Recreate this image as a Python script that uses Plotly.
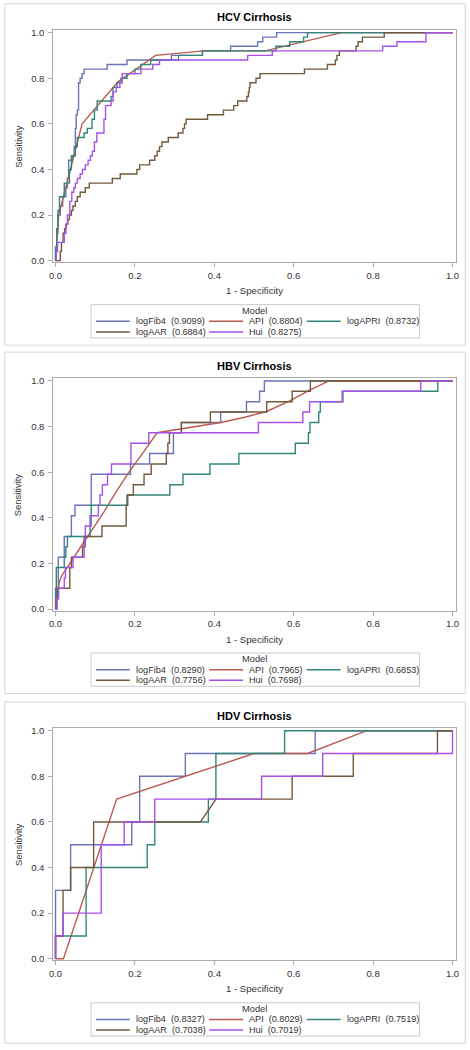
import plotly.graph_objects as go

W, H = 470, 1050

# ---------------- data ----------------
model_names = ["logFib4", "API", "logAPRI", "logAAR", "Hui"]
model_colors = ["#6A73B8", "#BB5A50", "#33857A", "#72583C", "#A850EA"]
panel_titles = ["HCV Cirrhosis", "HBV Cirrhosis", "HDV Cirrhosis"]
tick_vals = [0.0, 0.2, 0.4, 0.6, 0.8, 1.0]
tick_text = ["0.0", "0.2", "0.4", "0.6", "0.8", "1.0"]

hcv_auc = [0.9099, 0.8804, 0.8732, 0.6884, 0.8275]
hbv_auc = [0.8290, 0.7965, 0.6853, 0.7756, 0.7698]
hdv_auc = [0.8327, 0.8029, 0.7519, 0.7038, 0.7019]

# ROC vertices (1 - specificity, sensitivity)
hcv_logfib4 = [(0, 0), (0, 0.04), (0.003, 0.04), (0.003, 0.12), (0.006, 0.12), (0.006, 0.2),
               (0.012, 0.2), (0.012, 0.24), (0.018, 0.24), (0.018, 0.28), (0.026, 0.28), (0.026, 0.32),
               (0.03, 0.32), (0.03, 0.36), (0.033, 0.36), (0.033, 0.44), (0.043, 0.44), (0.043, 0.46),
               (0.047, 0.46), (0.047, 0.5), (0.05, 0.5), (0.05, 0.58), (0.052, 0.58), (0.052, 0.64),
               (0.055, 0.64), (0.055, 0.66), (0.058, 0.66), (0.058, 0.78), (0.062, 0.78), (0.062, 0.8),
               (0.067, 0.8), (0.067, 0.82), (0.072, 0.82), (0.072, 0.84), (0.13, 0.84), (0.13, 0.86),
               (0.18, 0.86), (0.18, 0.88), (0.292, 0.88), (0.292, 0.9), (0.37, 0.9), (0.37, 0.92),
               (0.441, 0.92), (0.441, 0.94), (0.509, 0.94), (0.509, 0.96), (0.522, 0.96), (0.522, 0.98),
               (0.557, 0.98), (0.557, 1.0), (1, 1.0)]
hcv_api = [(0, 0), (0.008, 0.2), (0.067, 0.6), (0.158, 0.785), (0.252, 0.9), (0.374, 0.92),
           (0.528, 0.92), (0.72, 1.0), (1, 1.0)]
hcv_logapri = [(0, 0), (0, 0.06), (0.003, 0.06), (0.003, 0.14), (0.006, 0.14), (0.006, 0.22),
               (0.01, 0.22), (0.01, 0.28), (0.022, 0.28), (0.022, 0.34), (0.035, 0.34), (0.035, 0.4),
               (0.04, 0.4), (0.04, 0.46), (0.05, 0.46), (0.05, 0.5), (0.055, 0.5), (0.055, 0.54),
               (0.072, 0.54), (0.072, 0.56), (0.08, 0.56), (0.08, 0.58), (0.092, 0.58), (0.092, 0.62),
               (0.098, 0.62), (0.098, 0.66), (0.105, 0.66), (0.105, 0.7), (0.14, 0.7), (0.14, 0.72),
               (0.145, 0.72), (0.145, 0.76), (0.155, 0.76), (0.155, 0.78), (0.165, 0.78), (0.165, 0.8),
               (0.18, 0.8), (0.18, 0.82), (0.2, 0.82), (0.2, 0.84), (0.215, 0.84), (0.215, 0.86),
               (0.24, 0.86), (0.24, 0.88), (0.31, 0.88), (0.31, 0.9), (0.37, 0.9), (0.37, 0.92),
               (0.555, 0.92), (0.555, 0.94), (0.59, 0.94), (0.59, 0.96), (0.625, 0.96), (0.625, 0.98),
               (0.635, 0.98), (0.635, 1.0), (1, 1.0)]
hcv_logaar = [(0, 0), (0.012, 0), (0.012, 0.04), (0.015, 0.04), (0.015, 0.08), (0.019, 0.08),
              (0.019, 0.12), (0.023, 0.12), (0.023, 0.14), (0.027, 0.14), (0.027, 0.16), (0.031, 0.16),
              (0.031, 0.18), (0.035, 0.18), (0.035, 0.2), (0.04, 0.2), (0.04, 0.22), (0.044, 0.22),
              (0.044, 0.24), (0.05, 0.24), (0.05, 0.26), (0.055, 0.26), (0.055, 0.28), (0.062, 0.28),
              (0.062, 0.3), (0.075, 0.3), (0.075, 0.32), (0.085, 0.32), (0.085, 0.34), (0.143, 0.34),
              (0.143, 0.36), (0.163, 0.36), (0.163, 0.38), (0.205, 0.38), (0.205, 0.4), (0.212, 0.4),
              (0.212, 0.42), (0.237, 0.42), (0.237, 0.44), (0.25, 0.44), (0.25, 0.46), (0.256, 0.46),
              (0.256, 0.48), (0.262, 0.48), (0.262, 0.5), (0.268, 0.5), (0.268, 0.52), (0.284, 0.52),
              (0.284, 0.54), (0.309, 0.54), (0.309, 0.56), (0.321, 0.56), (0.321, 0.58), (0.325, 0.58),
              (0.325, 0.6), (0.329, 0.6), (0.329, 0.62), (0.383, 0.62), (0.383, 0.64), (0.423, 0.64),
              (0.423, 0.66), (0.449, 0.66), (0.449, 0.68), (0.459, 0.68), (0.459, 0.7), (0.482, 0.7),
              (0.482, 0.72), (0.486, 0.72), (0.486, 0.74), (0.488, 0.74), (0.488, 0.76), (0.49, 0.76),
              (0.49, 0.78), (0.505, 0.78), (0.505, 0.8), (0.515, 0.8), (0.515, 0.82), (0.627, 0.82),
              (0.627, 0.84), (0.685, 0.84), (0.685, 0.86), (0.705, 0.86), (0.705, 0.88), (0.709, 0.88),
              (0.709, 0.9), (0.715, 0.9), (0.715, 0.92), (0.757, 0.92), (0.757, 0.94), (0.762, 0.94),
              (0.762, 0.96), (0.773, 0.96), (0.773, 0.98), (0.828, 0.98), (0.828, 1.0), (1, 1.0)]
hcv_hui = [(0, 0), (0.002, 0), (0.002, 0.04), (0.005, 0.04), (0.005, 0.08), (0.022, 0.08),
           (0.022, 0.12), (0.026, 0.12), (0.026, 0.16), (0.03, 0.16), (0.03, 0.2), (0.036, 0.2),
           (0.036, 0.26), (0.041, 0.26), (0.041, 0.3), (0.046, 0.3), (0.046, 0.32), (0.05, 0.32),
           (0.05, 0.34), (0.055, 0.34), (0.055, 0.36), (0.062, 0.36), (0.062, 0.38), (0.068, 0.38),
           (0.068, 0.4), (0.075, 0.4), (0.075, 0.42), (0.082, 0.42), (0.082, 0.44), (0.088, 0.44),
           (0.088, 0.46), (0.093, 0.46), (0.093, 0.48), (0.098, 0.48), (0.098, 0.52), (0.104, 0.52),
           (0.104, 0.56), (0.122, 0.56), (0.122, 0.62), (0.126, 0.62), (0.126, 0.68), (0.14, 0.68),
           (0.14, 0.7), (0.145, 0.7), (0.145, 0.74), (0.153, 0.74), (0.153, 0.76), (0.162, 0.76),
           (0.162, 0.78), (0.168, 0.78), (0.168, 0.82), (0.215, 0.82), (0.215, 0.84), (0.245, 0.84),
           (0.245, 0.86), (0.262, 0.86), (0.262, 0.88), (0.484, 0.88), (0.484, 0.9), (0.546, 0.9),
           (0.546, 0.92), (0.824, 0.92), (0.824, 0.94), (0.86, 0.94), (0.86, 0.96), (0.933, 0.96),
           (0.933, 1.0), (1, 1.0)]

hbv_logfib4 = [(0, 0), (0, 0.091), (0.007, 0.091), (0.007, 0.227), (0.022, 0.227), (0.022, 0.318),
               (0.04, 0.318), (0.04, 0.409), (0.049, 0.409), (0.049, 0.455), (0.09, 0.455), (0.09, 0.591),
               (0.189, 0.591), (0.189, 0.636), (0.237, 0.636), (0.237, 0.682), (0.297, 0.682),
               (0.297, 0.773), (0.317, 0.773), (0.317, 0.818), (0.416, 0.818), (0.416, 0.864),
               (0.481, 0.864), (0.481, 0.909), (0.514, 0.909), (0.514, 0.955), (0.526, 0.955),
               (0.526, 1.0), (1, 1.0)]
hbv_api = [(0, 0), (0.004, 0.07), (0.01, 0.12), (0.015, 0.145), (0.031, 0.186), (0.047, 0.23),
           (0.072, 0.295), (0.097, 0.36), (0.122, 0.426), (0.155, 0.52), (0.188, 0.608),
           (0.221, 0.687), (0.256, 0.773), (0.342, 0.797), (0.416, 0.818), (0.474, 0.84),
           (0.53, 0.865), (0.59, 0.913), (0.64, 0.96), (0.689, 1.0), (1, 1.0)]
hbv_logapri = [(0, 0), (0.002, 0), (0.002, 0.182), (0.022, 0.182), (0.022, 0.227), (0.026, 0.227),
               (0.026, 0.273), (0.03, 0.273), (0.03, 0.318), (0.087, 0.318), (0.087, 0.409),
               (0.09, 0.409), (0.09, 0.455), (0.18, 0.455), (0.18, 0.5), (0.288, 0.5), (0.288, 0.545),
               (0.321, 0.545), (0.321, 0.591), (0.389, 0.591), (0.389, 0.636), (0.462, 0.636),
               (0.462, 0.682), (0.604, 0.682), (0.604, 0.727), (0.637, 0.727), (0.637, 0.773),
               (0.641, 0.773), (0.641, 0.818), (0.663, 0.818), (0.663, 0.864), (0.667, 0.864),
               (0.667, 0.909), (0.724, 0.909), (0.724, 0.955), (0.963, 0.955), (0.963, 1.0), (1, 1.0)]
hbv_logaar = [(0, 0), (0.002, 0), (0.002, 0.045), (0.006, 0.045), (0.006, 0.091), (0.036, 0.091),
              (0.036, 0.182), (0.04, 0.182), (0.04, 0.227), (0.068, 0.227), (0.068, 0.273),
              (0.072, 0.273), (0.072, 0.318), (0.117, 0.318), (0.117, 0.364), (0.178, 0.364),
              (0.178, 0.455), (0.182, 0.455), (0.182, 0.5), (0.196, 0.5), (0.196, 0.545),
              (0.223, 0.545), (0.223, 0.591), (0.241, 0.591), (0.241, 0.636), (0.279, 0.636),
              (0.279, 0.682), (0.283, 0.682), (0.283, 0.727), (0.287, 0.727), (0.287, 0.773),
              (0.317, 0.773), (0.317, 0.818), (0.39, 0.818), (0.39, 0.864), (0.532, 0.864),
              (0.532, 0.909), (0.596, 0.909), (0.596, 0.955), (0.642, 0.955), (0.642, 1.0), (1, 1.0)]
hbv_hui = [(0, 0), (0.004, 0), (0.004, 0.045), (0.008, 0.045), (0.008, 0.091), (0.022, 0.091),
           (0.022, 0.136), (0.025, 0.136), (0.025, 0.182), (0.044, 0.182), (0.044, 0.227),
           (0.072, 0.227), (0.072, 0.273), (0.075, 0.273), (0.075, 0.364), (0.09, 0.364),
           (0.09, 0.409), (0.108, 0.409), (0.108, 0.455), (0.112, 0.455), (0.112, 0.5),
           (0.118, 0.5), (0.118, 0.545), (0.131, 0.545), (0.131, 0.591), (0.141, 0.591),
           (0.141, 0.636), (0.19, 0.636), (0.19, 0.727), (0.235, 0.727), (0.235, 0.773),
           (0.511, 0.773), (0.511, 0.818), (0.623, 0.818), (0.623, 0.864), (0.64, 0.864),
           (0.64, 0.909), (0.722, 0.909), (0.722, 0.955), (0.92, 0.955), (0.92, 1.0), (1, 1.0)]

hdv_logfib4 = [(0, 0), (0, 0.3), (0.038, 0.3), (0.038, 0.5), (0.192, 0.5), (0.192, 0.6),
               (0.212, 0.6), (0.212, 0.8), (0.327, 0.8), (0.327, 0.9), (0.654, 0.9), (0.654, 1.0),
               (1, 1.0)]
hdv_api = [(0, 0), (0.02, 0), (0.154, 0.7), (0.5, 0.9), (0.635, 0.9), (0.784, 1.0), (1, 1.0)]
hdv_logapri = [(0, 0), (0, 0.1), (0.077, 0.1), (0.077, 0.4), (0.231, 0.4), (0.231, 0.5),
               (0.25, 0.5), (0.25, 0.6), (0.385, 0.6), (0.385, 0.7), (0.404, 0.7), (0.404, 0.9),
               (0.577, 0.9), (0.577, 1.0), (1, 1.0)]
hdv_logaar = [(0, 0), (0, 0.1), (0.019, 0.1), (0.019, 0.3), (0.038, 0.3), (0.038, 0.4),
              (0.096, 0.4), (0.096, 0.6), (0.365, 0.6), (0.404, 0.7), (0.596, 0.7), (0.596, 0.8),
              (0.75, 0.8), (0.75, 0.9), (0.962, 0.9), (0.962, 1.0), (1, 1.0)]
hdv_hui = [(0, 0), (0, 0.1), (0.019, 0.1), (0.019, 0.2), (0.115, 0.2), (0.115, 0.5),
           (0.173, 0.5), (0.173, 0.6), (0.25, 0.6), (0.25, 0.7), (0.519, 0.7), (0.519, 0.8),
           (0.673, 0.8), (0.673, 0.9), (1, 0.9), (1, 1.0)]

panels = [
    (panel_titles[0], hcv_auc, [hcv_logfib4, hcv_api, hcv_logapri, hcv_logaar, hcv_hui]),
    (panel_titles[1], hbv_auc, [hbv_logfib4, hbv_api, hbv_logapri, hbv_logaar, hbv_hui]),
    (panel_titles[2], hdv_auc, [hdv_logfib4, hdv_api, hdv_logapri, hdv_logaar, hdv_hui]),
]

# ---------------- layout constants (pixels) ----------------
FONT = "Liberation Sans, Arial, Helvetica, sans-serif"
OFFS = [0, 350.7, 702.8]
PLOT_L, PLOT_R = 50, 459
PLOT_T, PLOT_B = 27, 261
X_RANGE = [-0.0057, 1.0092]
Y_RANGE = [-0.007, 1.0122]
CX = (PLOT_L + PLOT_R) / 2
LEG_COL_KEY = [(93.3, 127.7), (208.3, 242.7), (307.3, 341.7)]
LEG_COL_TXT = [132.5, 247.3, 346.7]
LEG_ROW_Y = [320.5, 331.2]


def px(x):
    return x / W


def py(y):
    return 1 - y / H


fig = go.Figure()
annotations = []
shapes = []

for i, (title, aucs, curves) in enumerate(panels):
    off = OFFS[i]
    sfx = "" if i == 0 else str(i + 1)
    for k, pts in enumerate(curves):
        xs = [p[0] for p in pts]
        ys = [p[1] for p in pts]
        fig.add_trace(go.Scatter(
            x=xs, y=ys, mode="lines", name=model_names[k], showlegend=False,
            line=dict(color=model_colors[k], width=1.4),
            xaxis="x" + sfx, yaxis="y" + sfx, hoverinfo="skip"))

    axis_common = dict(showline=True, mirror=True, linecolor="#ABABAB", linewidth=1,
                       ticks="outside", ticklen=4, tickcolor="#ABABAB", tickwidth=1,
                       tickvals=tick_vals, ticktext=tick_text, showgrid=False, zeroline=False,
                       tickfont=dict(family=FONT, size=9.5, color="#333333"), fixedrange=True)
    fig.update_layout(**{
        "xaxis" + sfx: dict(domain=[px(PLOT_L), px(PLOT_R)], range=X_RANGE,
                            anchor="y" + sfx, **axis_common),
        "yaxis" + sfx: dict(domain=[py(off + PLOT_B), py(off + PLOT_T)], range=Y_RANGE,
                            anchor="x" + sfx, ticklabelstandoff=2, **axis_common),
    })

    # outer panel frame
    shapes.append(dict(type="rect", xref="paper", yref="paper",
                       x0=px(0.8), x1=px(468.2), y0=py(off + 344.5), y1=py(off + 0.8),
                       line=dict(color="#D6D6D6", width=1), layer="below"))
    # titles
    annotations.append(dict(text="<b>" + title + "</b>", x=px(CX), y=py(off + 14.5),
                            xref="paper", yref="paper", showarrow=False,
                            xanchor="center", yanchor="middle",
                            font=dict(family=FONT, size=11, color="#000000")))
    annotations.append(dict(text="1 - Specificity", x=px(CX), y=py(off + 289.8),
                            xref="paper", yref="paper", showarrow=False,
                            xanchor="center", yanchor="middle",
                            font=dict(family=FONT, size=9.6, color="#333333")))
    annotations.append(dict(text="Sensitivity", x=px(14), y=py(off + (PLOT_T + PLOT_B) / 2),
                            xref="paper", yref="paper", showarrow=False, textangle=-90,
                            xanchor="center", yanchor="middle",
                            font=dict(family=FONT, size=9.4, color="#333333")))
    # legend box
    shapes.append(dict(type="rect", xref="paper", yref="paper",
                       x0=px(88.3), x1=px(421.7), y0=py(off + 337.2), y1=py(off + 303.7),
                       line=dict(color="#C9C9C9", width=1)))
    annotations.append(dict(text="Model", x=px(CX), y=py(off + 309.6),
                            xref="paper", yref="paper", showarrow=False,
                            xanchor="center", yanchor="middle",
                            font=dict(family=FONT, size=9.3, color="#333333")))
    for k, name in enumerate(model_names):
        row, col = divmod(k, 3)
        yy = off + LEG_ROW_Y[row]
        x0, x1 = LEG_COL_KEY[col]
        shapes.append(dict(type="line", xref="paper", yref="paper",
                           x0=px(x0), x1=px(x1), y0=py(yy), y1=py(yy),
                           line=dict(color=model_colors[k], width=1.5)))
        annotations.append(dict(text=f"{name}\u00a0 ({aucs[k]:.4f})", x=px(LEG_COL_TXT[col]),
                                y=py(yy), xref="paper", yref="paper", showarrow=False,
                                xanchor="left", yanchor="middle", borderpad=0,
                                font=dict(family=FONT, size=9.1, color="#333333")))

fig.update_layout(width=W, height=H, margin=dict(l=0, r=0, t=0, b=0),
                  paper_bgcolor="white", plot_bgcolor="white",
                  showlegend=False, annotations=annotations, shapes=shapes,
                  font=dict(family=FONT, color="#333333"))

fig.write_html("out.html", config={"displayModeBar": False, "staticPlot": True},
               post_script="document.body.style.margin='0';document.body.style.overflow='hidden';")
